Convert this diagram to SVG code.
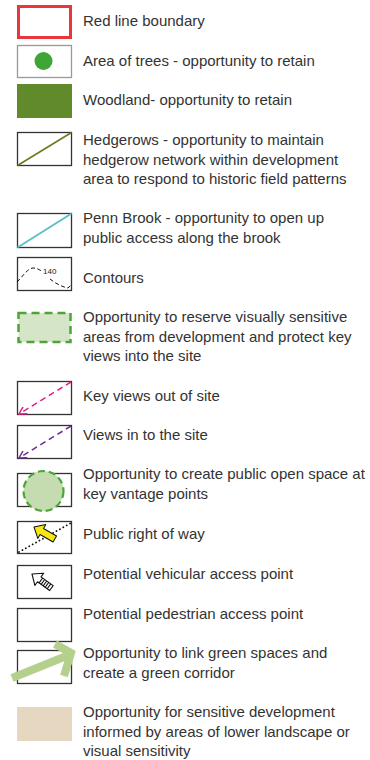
<svg xmlns="http://www.w3.org/2000/svg" width="370" height="760" viewBox="0 0 370 760">
<style>
text{font-family:"Liberation Sans",Arial,sans-serif;font-size:15px;fill:#333}
.box{fill:#fff;stroke:#333;stroke-width:1.3}
.lbl{font-size:8px;fill:#222}
</style>
<defs>
<marker id="chev-pink" viewBox="0 0 10 10" refX="9" refY="5" markerWidth="9" markerHeight="9" orient="auto" markerUnits="userSpaceOnUse">
<path d="M1,0.5 L9,5 L1,9.5" fill="none" stroke="#e0218a" stroke-width="1.6"/>
</marker>
<marker id="chev-purple" viewBox="0 0 10 10" refX="9" refY="5" markerWidth="9" markerHeight="9" orient="auto" markerUnits="userSpaceOnUse">
<path d="M1,0.5 L9,5 L1,9.5" fill="none" stroke="#6a2c91" stroke-width="1.6"/>
</marker>
</defs>
<rect width="370" height="760" fill="#fff"/>

<g id="red-line">
<rect x="18.5" y="6.5" width="52" height="31" fill="#fff" stroke="#e8363b" stroke-width="3"/>
<text x="83" y="26">Red line boundary</text>
</g>

<g id="trees">
<rect x="17.5" y="45.5" width="54" height="32" fill="#fff" stroke="#999" stroke-width="1.3"/>
<circle cx="43.5" cy="61" r="9" fill="#3fa535"/>
<text x="83" y="66">Area of trees - opportunity to retain</text>
</g>

<g id="woodland">
<rect x="17" y="84" width="55" height="34" fill="#618b2b"/>
<text x="83" y="105">Woodland- opportunity to retain</text>
</g>

<g id="hedgerows">
<rect class="box" x="17.5" y="132.5" width="54" height="33"/>
<line x1="17.5" y1="165.5" x2="71.5" y2="132.5" stroke="#6b7a1e" stroke-width="1.6"/>
<text x="83" y="145">Hedgerows - opportunity to maintain</text>
<text x="83" y="164.5">hedgerow network within development</text>
<text x="83" y="184">area to respond to historic field patterns</text>
</g>

<g id="penn-brook">
<rect class="box" x="17.5" y="213.5" width="54" height="34"/>
<line x1="17.5" y1="247.5" x2="71.5" y2="213.5" stroke="#5bc0c8" stroke-width="2"/>
<text x="83" y="223">Penn Brook - opportunity to open up</text>
<text x="83" y="242.5">public access along the brook</text>
</g>

<g id="contours">
<rect class="box" x="17.5" y="257.5" width="54" height="33"/>
<path d="M17,282 C23,276 28,268 33,268 C37,268 40,270 43,272 M50,279 C55,283 62,287 68,288 L71,285" fill="none" stroke="#111" stroke-width="1" stroke-dasharray="4,2.5"/>
<text class="lbl" x="43" y="274">140</text>
<text x="83" y="283">Contours</text>
</g>

<g id="visually-sensitive">
<rect x="18.5" y="313" width="52" height="29" fill="#d5e6c8" stroke="#4aa636" stroke-width="2.5" stroke-dasharray="8,5"/>
<text x="83" y="322">Opportunity to reserve visually sensitive</text>
<text x="83" y="341.5">areas from development and protect key</text>
<text x="83" y="361">views into the site</text>
</g>

<g id="key-views-out">
<rect class="box" x="17.5" y="381.5" width="54" height="33"/>
<text x="83" y="401">Key views out of site</text>
</g>

<g id="views-in">
<rect class="box" x="17.5" y="425.5" width="54" height="33"/>
<text x="83" y="440">Views in to the site</text>
</g>

<g id="public-open-space">
<rect class="box" x="17.5" y="473.5" width="54" height="33"/>
<circle cx="43.5" cy="491" r="20" fill="#c5dcb0" stroke="#4aa636" stroke-width="2.2" stroke-dasharray="7,4"/>
<text x="83" y="479">Opportunity to create public open space at</text>
<text x="83" y="498.5">key vantage points</text>
</g>

<g id="right-of-way">
<rect class="box" x="17.5" y="521.5" width="54" height="32"/>
<line x1="19" y1="552" x2="71" y2="523" stroke="#111" stroke-width="1.8" stroke-linecap="round" stroke-dasharray="0.1,3.8"/>
<g transform="translate(34,527) rotate(30)">
<path d="M0,0 L9,-8 L9,-3.5 L24,-3.5 L24,3.5 L9,3.5 L9,8 Z" fill="#f5e614" stroke="#111" stroke-width="1" stroke-linejoin="round"/>
</g>
<text x="83" y="539">Public right of way</text>
</g>

<g id="vehicular">
<rect class="box" x="17.5" y="565.5" width="54" height="33"/>
<g transform="translate(32,574) rotate(36)">
<path d="M0,0 L9,-7.5 L9,-3 L24,-3 L24,3 L9,3 L9,7.5 Z" fill="#fff" stroke="#111" stroke-width="1.1" stroke-linejoin="round"/>
<path d="M11,-3 V3 M13.5,-3 V3 M16,-3 V3 M18.5,-3 V3 M21,-3 V3" stroke="#111" stroke-width="1.1"/>
</g>
<text x="83" y="579">Potential vehicular access point</text>
</g>

<g id="pedestrian">
<rect class="box" x="17.5" y="608.5" width="54" height="33"/>
<text x="83" y="619">Potential pedestrian access point</text>
</g>

<g id="green-corridor">
<rect class="box" x="17.5" y="650.5" width="54" height="33"/>
<g stroke="#b5cf8c" stroke-width="8" fill="none" stroke-linejoin="miter">
<line x1="12" y1="678" x2="69" y2="655"/>
<path d="M55,644 L71,653 L64,676"/>
</g>
<text x="83" y="658">Opportunity to link green spaces and</text>
<text x="83" y="678">create a green corridor</text>
</g>

<g id="sensitive-development">
<rect x="17" y="707" width="55" height="34" fill="#e6d7c0"/>
<text x="83" y="717">Opportunity for sensitive development</text>
<text x="83" y="736.5">informed by areas of lower landscape or</text>
<text x="83" y="756">visual sensitivity</text>
</g>

<g id="connectors">
<line x1="71" y1="382" x2="19" y2="414" stroke="#e0218a" stroke-width="1.5" stroke-dasharray="6,4" marker-end="url(#chev-pink)"/>
<line x1="71" y1="426" x2="19" y2="458" stroke="#6a2c91" stroke-width="1.5" stroke-dasharray="6,4" marker-end="url(#chev-purple)"/>
</g>
</svg>
